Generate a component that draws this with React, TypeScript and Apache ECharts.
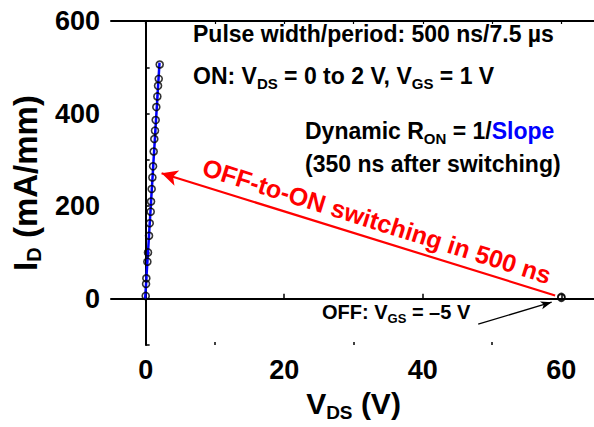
import React, { useEffect, useRef } from 'react';
import * as echarts from 'echarts';

// ON-state pulsed data (V_DS in V, I_D in mA/mm)
const onVds = [0.01, 0.06, 0.10, 0.25, 0.34, 0.49, 0.59, 0.73, 0.78, 0.87, 0.97, 1.07, 1.16, 1.25, 1.35, 1.45, 1.54, 1.69, 1.79, 1.89, 2.03];
const onId = [6, 32, 44, 80, 100, 136, 163, 188, 210, 237, 262, 286, 318, 345, 363, 386, 414, 437, 460, 475, 506];
// linear fit (dynamic R_ON slope)
const fitVds = [-0.07, 2.0];
const fitId = [0, 510];
// OFF-state point
const offVds = [60, 60];
const offId = [2, 4];
// axis ticks
const xMajorTicks = [0, 20, 40, 60];
const xMinorTicks = [10, 30, 50];
const xTopTicks = [0, 10, 20, 30, 40, 50, 60];
const yTickLabels = [0, 200, 400, 600];
// annotation arrows (data coordinates)
const redArrowFrom = [59.1, 7];
const redArrowTo = [2.3, 271];
const blackArrowFrom = [48, -55];
const blackArrowTo = [58.6, -7.5];

const FF = '"Liberation Sans", Arial, sans-serif';

export default function App() {
  const ref = useRef<HTMLDivElement>(null);
  useEffect(() => {
    if (!ref.current) return;
    const chart = echarts.init(ref.current, undefined, { renderer: 'svg' });
    const txt = (x: number, y: number, text: string, size: number, subSize: number, pad: number) => ({
      type: 'text',
      x, y,
      style: {
        text,
        fontSize: size, fontWeight: 'bold', fontFamily: FF, fill: '#000',
        align: 'left', verticalAlign: 'middle',
        rich: {
          s: { fontSize: subSize, fontWeight: 'bold', fontFamily: FF, fill: '#000', padding: [pad, 0, 0, 0] },
          b: { fontSize: size, fontWeight: 'bold', fontFamily: FF, fill: '#0000ff' },
        },
      },
    });
    const axisLine = { show: true, lineStyle: { color: '#000', width: 2 } };
    chart.setOption({
      animation: false,
      grid: { left: 111, right: 4, top: 21, bottom: 82, containLabel: false },
      xAxis: [
        {
          type: 'value', min: -5, max: 65, position: 'bottom',
          axisLine,
          splitLine: { show: false },
          axisTick: { show: true, inside: true, length: 5, customValues: xMajorTicks, lineStyle: { color: '#000', width: 1.5 } },
          axisLabel: { customValues: xMajorTicks, fontSize: 27, fontWeight: 'bold', fontFamily: FF, color: '#000', margin: 11 },
          name: 'V{s|DS} (V)',
          nameLocation: 'middle',
          nameGap: 40,
          nameTextStyle: {
            fontSize: 30, fontWeight: 'bold', fontFamily: FF, color: '#000',
            rich: { s: { fontSize: 19, fontWeight: 'bold', fontFamily: FF, color: '#000', padding: [18, 0, 0, 0] } },
          },
        },
        {
          type: 'value', min: -5, max: 65, position: 'bottom', gridIndex: 0,
          axisLine: { show: false },
          splitLine: { show: false },
          axisTick: { show: true, inside: true, length: 3, customValues: xMinorTicks, lineStyle: { color: '#000', width: 1.5 } },
          axisLabel: { show: false },
        },
        {
          type: 'value', min: -5, max: 65, position: 'top', gridIndex: 0,
          axisLine,
          splitLine: { show: false },
          axisTick: { show: true, inside: true, length: 3, customValues: xTopTicks, lineStyle: { color: '#000', width: 1.2 } },
          axisLabel: { show: false },
        },
      ],
      yAxis: {
        type: 'value', min: -100, max: 600, interval: 100,
        axisLine,
        splitLine: { show: false },
        axisTick: { show: true, inside: true, length: 4, lineStyle: { color: '#000', width: 1.5 } },
        axisLabel: {
          customValues: yTickLabels,
          fontSize: 27, fontWeight: 'bold', fontFamily: FF, color: '#000', margin: 11,
        },
        name: 'I{s|D} (mA/mm)',
        nameLocation: 'middle',
        nameGap: 66,
        nameTextStyle: {
          fontSize: 33, fontWeight: 'bold', fontFamily: FF, color: '#000',
          rich: { s: { fontSize: 20, fontWeight: 'bold', fontFamily: FF, color: '#000', padding: [18, 0, 0, 0] } },
        },
      },
      series: [
        {
          type: 'line', xAxisIndex: 0,
          data: fitVds.map((v, i) => [v, fitId[i]]),
          symbol: 'none',
          lineStyle: { color: '#0000ff', width: 2.5 },
          z: 3,
        },
        {
          type: 'scatter', xAxisIndex: 0,
          data: onVds.map((v, i) => [v, onId[i]]),
          symbol: 'circle', symbolSize: 7,
          itemStyle: { color: 'rgba(255,255,255,0)', borderColor: '#000', borderWidth: 1.6 },
          z: 4,
        },
        {
          type: 'scatter', xAxisIndex: 0,
          data: offVds.map((v, i) => [v, offId[i]]),
          symbol: 'circle', symbolSize: 7,
          itemStyle: { color: 'rgba(255,255,255,0)', borderColor: '#000', borderWidth: 1.6 },
          z: 4,
          markLine: {
            silent: true,
            label: { show: false },
            emphasis: { disabled: true },
            data: [
              [
                { coord: redArrowFrom, symbol: 'none', lineStyle: { color: '#ff0000', width: 2.2, type: 'solid' } },
                { coord: redArrowTo, symbol: 'arrow', symbolSize: [12, 16] },
              ],
              [
                { coord: blackArrowFrom, symbol: 'none', lineStyle: { color: '#000', width: 1.3, type: 'solid' } },
                { coord: blackArrowTo, symbol: 'arrow', symbolSize: [6, 11] },
              ],
            ],
          },
        },
      ],
      graphic: [
        txt(193, 34, 'Pulse width/period: 500 ns/7.5 µs', 23, 15, 13),
        txt(193, 76, 'ON: V{s|DS} = 0 to 2 V, V{s|GS} = 1 V', 23, 15, 14),
        txt(305, 131, 'Dynamic R{s|ON} = 1/{b|Slope}', 23, 15, 14),
        txt(305, 164, '(350 ns after switching)', 23, 15, 14),
        txt(322, 312, 'OFF: V{s|GS} = –5 V', 20, 13, 12),
        {
          type: 'text',
          x: 377, y: 221,
          rotation: -17.5 * Math.PI / 180,
          style: {
            text: 'OFF-to-ON switching in 500 ns',
            fontSize: 25, fontWeight: 'bold', fontFamily: FF, fill: '#ff0000',
            align: 'center', verticalAlign: 'middle',
          },
        },
      ],
    });
    return () => chart.dispose();
  }, []);
  return (
    <div style={{ position: 'absolute', left: 0, top: 0, width: 594, height: 427, overflow: 'hidden', background: '#fff' }}>
      <div ref={ref} style={{ width: 600, height: 427 }} />
    </div>
  );
}
